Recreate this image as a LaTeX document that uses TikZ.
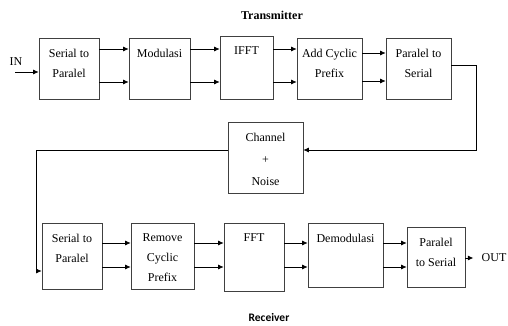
\documentclass[tikz,border=0pt]{standalone}
\usepackage{fontspec}
\setmainfont{Liberation Serif}
\newfontfamily\carlito{Carlito}
\usetikzlibrary{arrows.meta, calc, positioning}

\begin{document}
\begin{tikzpicture}[x=1pt, y=-1pt, line width=0.7pt]
  \tikzstyle{blk}=[draw=black!75, minimum height=61pt, inner sep=0pt]
  \tikzstyle{txt}=[below=9pt, align=center, inner sep=2pt, font=\fontsize{12}{20}\selectfont]
  \tikzstyle{arr}=[-{Latex[length=5.5pt, width=5pt]}, black]

  \useasboundingbox (0,0) rectangle (508,326);

  %% Titles
  \node[font=\bfseries\fontsize{12}{14}\selectfont] (tx) at (272,15) {Transmitter};
  \node[font=\carlito\bfseries\fontsize{11.5}{13}\selectfont] (rx) at (269,318) {Receiver};

  %% Transmitter blocks
  \node[blk, minimum width=60pt, label={[txt]north:Serial to\\Paralel}] (sp1) at (69,68.5) {};
  \node[blk, minimum width=61pt, label={[txt]north:Modulasi}] (mod) at (159.5,68.5) {};
  \node[blk, minimum width=53pt, minimum height=63pt, label={[txt]north:IFFT}] (ifft) at (246.5,67.5) {};
  \node[blk, minimum width=65pt, label={[txt]north:Add Cyclic\\Prefix}] (acp) at (329.5,68.5) {};
  \node[blk, minimum width=65pt, label={[txt]north:Paralel to\\Serial}] (ps1) at (418.5,68.5) {};

  % channel
  \node[blk, minimum width=75pt, minimum height=71pt,
    label={[txt, font=\fontsize{12}{22}\selectfont]north:Channel\\+\\Noise}] (ch) at (265.5,157.5) {};

  %% Receiver blocks
  \node[blk, minimum width=60pt, minimum height=66pt, label={[txt]north:Serial to\\Paralel}] (sp2) at (72,256) {};
  \node[blk, minimum width=63pt, minimum height=66pt, label={[txt]north:Remove\\Cyclic\\Prefix}] (rcp) at (162.5,256) {};
  \node[blk, minimum width=60pt, minimum height=68pt, label={[txt]north:FFT}] (fft) at (254,257) {};
  \node[blk, minimum width=75pt, minimum height=64pt, label={[txt]north:Demodulasi}] (dem) at (345.5,255) {};
  \node[blk, minimum width=58pt, minimum height=60pt, label={[txt]north:Paralel\\to Serial}] (ps2) at (436,257) {};

  %% In and out
  \node[font=\fontsize{12}{14}\selectfont, inner sep=2pt] (in) at (16,62) {IN};
  \coordinate (inarr) at (15,72);
  \draw[arr] (inarr) -- (sp1.west |- inarr);
  \node[font=\fontsize{12}{14}\selectfont, inner sep=1pt] (out) at (494,258) {OUT};
  \draw[arr, shorten >=7pt] (ps2.east |- out) -- (out.west);

  %% Parallel lines
  \coordinate (tu) at (0,49);
  \coordinate (tl) at (0,82);
  \coordinate (tu2) at (0,53);
  \coordinate (tl2) at (0,81);
  \coordinate (bu) at (0,243);
  \coordinate (bl) at (0,267);
  % top row
  \draw[arr] (sp1.east |- tu) -- (mod.west |- tu);
  \draw[arr] (sp1.east |- tl) -- (mod.west |- tl);
  \draw[arr] (mod.east |- tu) -- (ifft.west |- tu);
  \draw[arr] (mod.east |- tl) -- (ifft.west |- tl);
  \draw[arr] (ifft.east |- tu) -- (acp.west |- tu);
  \draw[arr] (ifft.east |- tl) -- (acp.west |- tl);
  \draw[arr] (acp.east |- tu2) -- (ps1.west |- tu2);
  \draw[arr] (acp.east |- tl2) -- (ps1.west |- tl2);
  % bottom row
  \draw[arr] (sp2.east |- bu) -- (rcp.west |- bu);
  \draw[arr] (sp2.east |- bl) -- (rcp.west |- bl);
  \draw[arr] (rcp.east |- bu) -- (fft.west |- bu);
  \draw[arr] (rcp.east |- bl) -- (fft.west |- bl);
  \draw[arr] (fft.east |- bu) -- (dem.west |- bu);
  \draw[arr] (fft.east |- bl) -- (dem.west |- bl);
  \draw[arr] (dem.east |- bu) -- (ps2.west |- bu);
  \draw[arr] (dem.east |- bl) -- (ps2.west |- bl);

  %% Through the channel
  \coordinate (txout) at (0,65);
  \coordinate (rt) at (476,150);
  \coordinate (lf) at (36,150);
  \coordinate (rxin) at (0,271);
  \draw[arr] (ps1.east |- txout) -| (rt) -- (ch.east |- rt);
  \draw[arr] (ch.west |- lf) -- (lf) |- (sp2.west |- rxin);
\end{tikzpicture}
\end{document}
